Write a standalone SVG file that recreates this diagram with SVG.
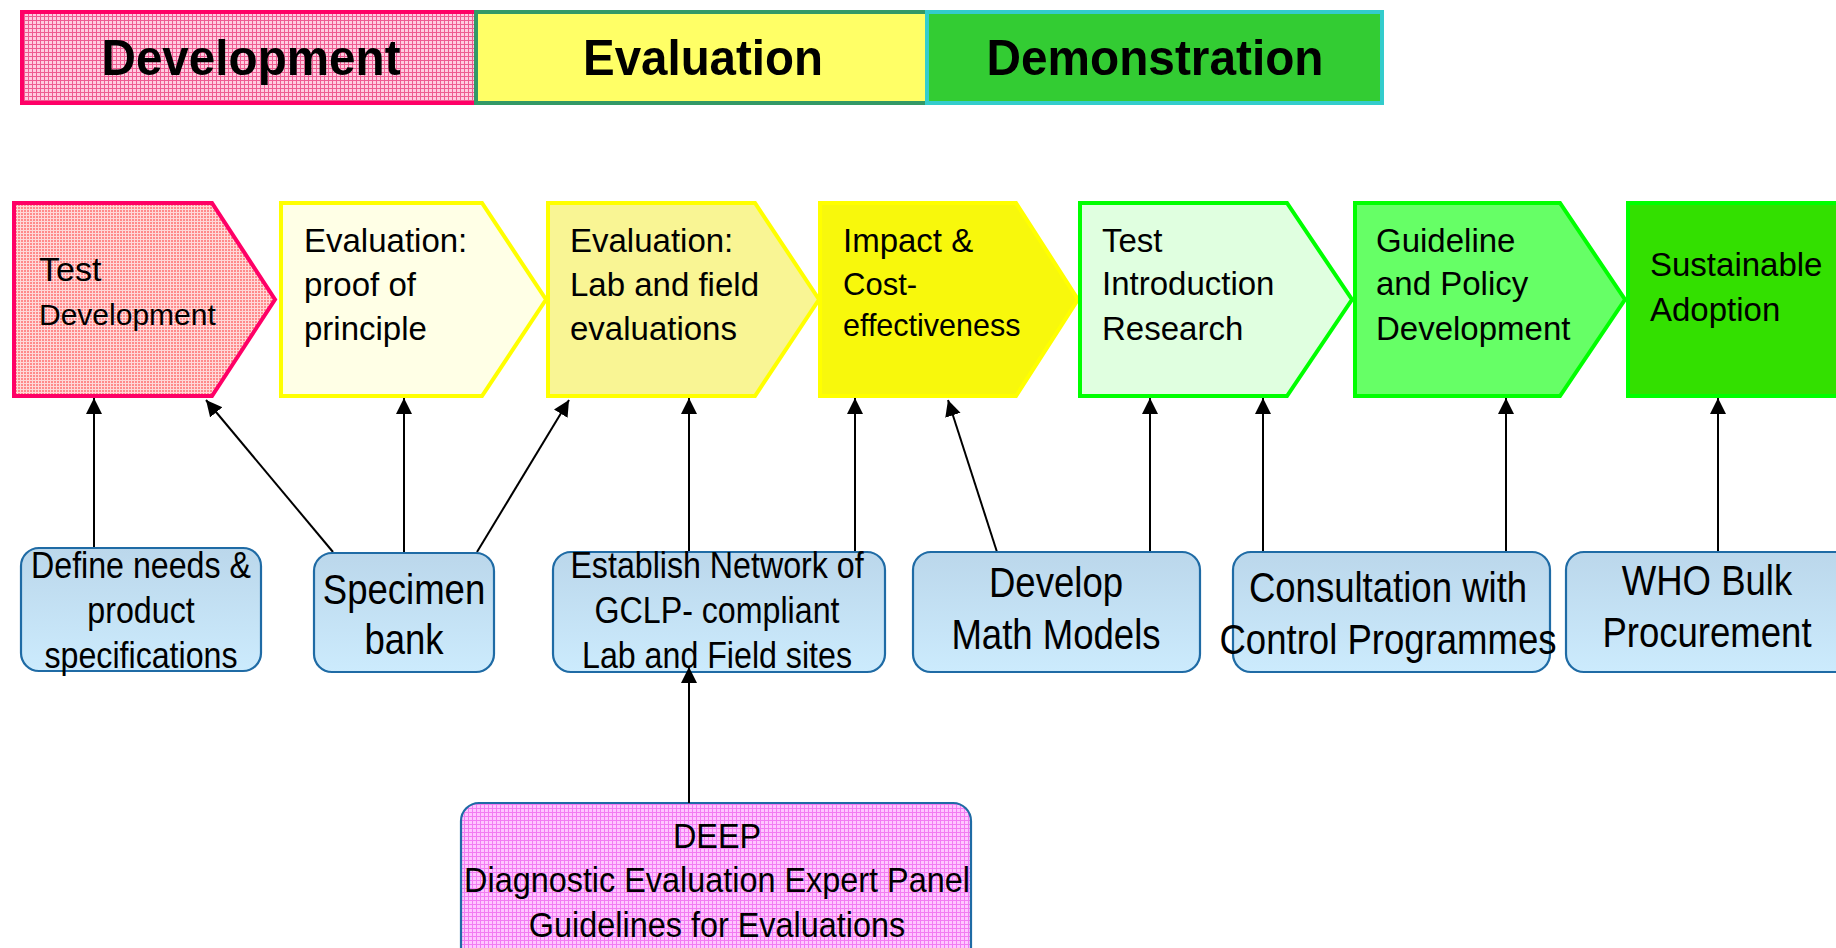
<svg xmlns="http://www.w3.org/2000/svg" width="1836" height="948" viewBox="0 0 1836 948">
<defs>
<style>
.t{font-family:"Liberation Sans",Arial,sans-serif;fill:#000}
.h{font-weight:bold;font-size:50px;text-anchor:middle}
.c{font-size:33px}
.b{font-size:37px;text-anchor:middle}
.bb{font-size:42px;text-anchor:middle}
.box{stroke:#1F6BA5;stroke-width:2.2}
.conn line{stroke:#000;stroke-width:2;marker-end:url(#ah)}
</style>
<marker id="ah" markerUnits="userSpaceOnUse" markerWidth="17" markerHeight="17" refX="16" refY="8" orient="auto">
<path d="M0,0 L16,8 L0,16 z" fill="#000"/>
</marker>
<pattern id="pinkGrid" width="4" height="4" patternUnits="userSpaceOnUse">
<rect width="4" height="4" fill="#FFCCE0"/>
<path d="M0,0.5 H4 M0.5,0 V4" stroke="#EE5C92" stroke-width="1"/>
</pattern>
<pattern id="redDots" width="3" height="3" patternUnits="userSpaceOnUse">
<rect width="3" height="3" fill="#FFD8D8"/>
<rect width="2" height="2" fill="#FF8A8A"/>
</pattern>
<pattern id="magGrid" width="4" height="4" patternUnits="userSpaceOnUse">
<rect width="4" height="4" fill="#FFC6FF"/>
<path d="M0,0.5 H4 M0.5,0 V4" stroke="#F27CF2" stroke-width="1"/>
</pattern>
<linearGradient id="blue" x1="0" y1="0" x2="0" y2="1">
<stop offset="0" stop-color="#BBD7EB"/>
<stop offset="1" stop-color="#CCEBFD"/>
</linearGradient>
</defs>

<g id="header">
<g id="phase-development">
<rect x="22" y="12" width="454" height="91" fill="url(#pinkGrid)" stroke="#FF0066" stroke-width="4"/>
<text class="t h" x="251" y="75" textLength="299" lengthAdjust="spacingAndGlyphs">Development</text>
</g>
<g id="phase-evaluation">
<rect x="476" y="12" width="451" height="91" fill="#FFFF66" stroke="#339966" stroke-width="4"/>
<text class="t h" x="703" y="75" textLength="240" lengthAdjust="spacingAndGlyphs">Evaluation</text>
</g>
<g id="phase-demonstration">
<rect x="927" y="12" width="455" height="91" fill="#33CC33" stroke="#33CCCC" stroke-width="4"/>
<text class="t h" x="1155" y="75" textLength="337" lengthAdjust="spacingAndGlyphs">Demonstration</text>
</g>
</g>

<g id="n-test-development">
<path d="M14,203 H212 L275,299.5 L212,396 H14 Z" fill="url(#redDots)" stroke="#FF0066" stroke-width="4"/>
<text class="t" x="39" y="281" font-size="34">Test</text>
<text class="t" x="39" y="325" font-size="30">Development</text>
</g>
<g id="n-proof">
<path d="M281,203 H482 L546,299.5 L482,396 H281 Z" fill="#FFFFE6" stroke="#FFFF00" stroke-width="4"/>
<text class="t c" x="304" y="252">Evaluation:</text>
<text class="t c" x="304" y="296">proof of</text>
<text class="t c" x="304" y="340">principle</text>
</g>
<g id="n-labfield">
<path d="M548,203 H755 L819,299.5 L755,396 H548 Z" fill="#F9F594" stroke="#FFFF00" stroke-width="4"/>
<text class="t c" x="570" y="252">Evaluation:</text>
<text class="t c" x="570" y="296">Lab and field</text>
<text class="t c" x="570" y="340">evaluations</text>
</g>
<g id="n-impact">
<path d="M820,203 H1016 L1078,299.5 L1016,396 H820 Z" fill="#F8F80C" stroke="#FFFF00" stroke-width="4"/>
<text class="t c" x="843" y="252">Impact &amp;</text>
<text class="t" x="843" y="295" font-size="31">Cost-</text>
<text class="t" x="843" y="336" font-size="30.5">effectiveness</text>
</g>
<g id="n-introduction">
<path d="M1080,203 H1287 L1352,299.5 L1287,396 H1080 Z" fill="#E0FFE0" stroke="#00FF00" stroke-width="4"/>
<text class="t c" x="1102" y="252">Test</text>
<text class="t c" x="1102" y="295">Introduction</text>
<text class="t c" x="1102" y="340">Research</text>
</g>
<g id="n-guideline">
<path d="M1355,203 H1560 L1625,299.5 L1560,396 H1355 Z" fill="#66FF66" stroke="#00FF00" stroke-width="4"/>
<text class="t c" x="1376" y="252">Guideline</text>
<text class="t c" x="1376" y="295">and Policy</text>
<text class="t c" x="1376" y="340">Development</text>
</g>
<g id="n-adoption">
<rect x="1628" y="203" width="230" height="193" fill="#33E000" stroke="#00FF00" stroke-width="4"/>
<text class="t c" x="1650" y="276">Sustainable</text>
<text class="t c" x="1650" y="321">Adoption</text>
</g>

<g id="connectors" class="conn">
<line x1="94" y1="548" x2="94" y2="398"/>
<line x1="333" y1="552" x2="206" y2="400"/>
<line x1="404" y1="552" x2="404" y2="398"/>
<line x1="477" y1="552" x2="569" y2="400"/>
<line x1="689" y1="552" x2="689" y2="398"/>
<line x1="855" y1="552" x2="855" y2="398"/>
<line x1="997" y1="552" x2="948" y2="400"/>
<line x1="1150" y1="552" x2="1150" y2="398"/>
<line x1="1263" y1="552" x2="1263" y2="398"/>
<line x1="1506" y1="552" x2="1506" y2="398"/>
<line x1="1718" y1="552" x2="1718" y2="398"/>
</g>

<g id="b-define">
<rect class="box" x="21" y="548" width="240" height="123" rx="18" fill="url(#blue)"/>
<text class="t b" transform="translate(141 578) scale(0.87 1)">Define needs &amp;</text>
<text class="t b" transform="translate(141 623) scale(0.87 1)">product</text>
<text class="t b" transform="translate(141 668) scale(0.87 1)">specifications</text>
</g>
<g id="b-specimen">
<rect class="box" x="314" y="553" width="180" height="119" rx="18" fill="url(#blue)"/>
<text class="t bb" transform="translate(404 604) scale(0.87 1)">Specimen</text>
<text class="t bb" transform="translate(404 654) scale(0.87 1)">bank</text>
</g>
<g id="b-network">
<rect class="box" x="553" y="552" width="332" height="120" rx="18" fill="url(#blue)"/>
<text class="t b" transform="translate(717 578) scale(0.87 1)">Establish Network of</text>
<text class="t b" transform="translate(717 623) scale(0.87 1)">GCLP- compliant</text>
<text class="t b" transform="translate(717 668) scale(0.87 1)">Lab  and Field sites</text>
</g>
<g id="b-math">
<rect class="box" x="913" y="552" width="287" height="120" rx="18" fill="url(#blue)"/>
<text class="t bb" transform="translate(1056 597) scale(0.87 1)">Develop</text>
<text class="t bb" transform="translate(1056 649) scale(0.87 1)">Math Models</text>
</g>
<g id="b-consultation">
<rect class="box" x="1233" y="552" width="317" height="120" rx="18" fill="url(#blue)"/>
<text class="t bb" transform="translate(1388 602) scale(0.87 1)">Consultation with</text>
<text class="t bb" transform="translate(1388 654) scale(0.87 1)">Control Programmes</text>
</g>
<g id="b-who">
<rect class="box" x="1566" y="552" width="300" height="120" rx="18" fill="url(#blue)"/>
<text class="t bb" transform="translate(1707 595) scale(0.87 1)">WHO Bulk</text>
<text class="t bb" transform="translate(1707 647) scale(0.87 1)">Procurement</text>
</g>
<g id="b-deep">
<rect class="box" x="461" y="803" width="510" height="170" rx="18" fill="url(#magGrid)"/>
<text class="t" font-size="36" text-anchor="middle" transform="translate(717 848) scale(0.9 1)">DEEP</text>
<text class="t" font-size="36" text-anchor="middle" transform="translate(717 892) scale(0.9 1)">Diagnostic Evaluation Expert Panel</text>
<text class="t" font-size="36" text-anchor="middle" transform="translate(717 937) scale(0.9 1)">Guidelines for Evaluations</text>
</g>

<g id="connectors-deep" class="conn">
<line x1="689" y1="803" x2="689" y2="667"/>
</g>
</svg>
